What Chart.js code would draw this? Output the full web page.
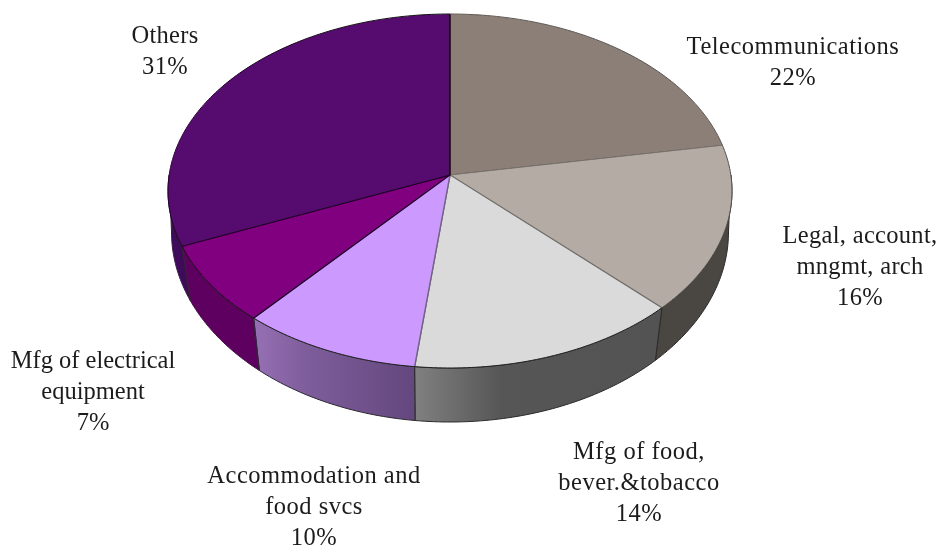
<!DOCTYPE html>
<html><head><meta charset="utf-8">
<style>html,body{margin:0;padding:0;background:#fff}canvas{display:block}</style>
<script src="https://cdn.jsdelivr.net/npm/chart.js@4"></script>
</head><body>
<div style="width:943px;height:552px"><canvas id="c" width="943" height="552"></canvas></div>
<script>
const categories = ["Telecommunications","Legal, account, mngmt, arch","Mfg of food, bever.&tobacco","Accommodation and food svcs","Mfg of electrical equipment","Others"];
const sliceShares = [22, 14.8, 15.2, 10, 7.1, 30.9];
// percentages as printed on the labels
const printedPercents = [22, 16, 14, 10, 7, 31];
const labelLines = [["Telecommunications"],["Legal, account,","mngmt, arch"],["Mfg of food,","bever.&tobacco"],["Accommodation and","food svcs"],["Mfg of electrical","equipment"],["Others"]];
const topColors = ["#8B7F78","#B3ABA4","#DADADA","#CC99FF","#800080","#560B6E"];
const edgeColors = ["#5c5550","#77716b","#6e6e6e","#7a5a9c","#220022","#1c0428"];
const rimColors = ["#5c5550","#55504b","#222222","#222222","#111111","#111111"];
const wallFrom = ["#4a4641","#4a4641","#808080","#9670B4","#5E0060","#3F0A5B"];
const wallMid  = ["#4a4641","#4a4641","#565656","#7d5c9a","#5E0060","#3F0A5B"];
const wallTo   = ["#4a4641","#4a4641","#535353","#64477E","#5E0060","#3F0A5B"];
const labelAnchors = [[793,47.5],[860,237],[639,452.5],[314,476.5],[93,361.5],[165,36.5]];
const labelSpacing = [0.5,0.3,0.5,0.5,0,0.3];
const LINE_H = 31;
const G = {cx:450, cy:175, rx:282, ryUp:161, ryDown:193, ey:191, ery:177, bx:278.5, bcy:232, bry:190, over:1.15};

function topPt(a){
  const s=Math.sin(a);
  const dx=G.rx*Math.cos(a), dy=(s<0?G.ryUp:G.ryDown)*s, py=G.cy-G.ey;
  const A=dx*dx/(G.rx*G.rx)+dy*dy/(G.ery*G.ery), B=2*py*dy/(G.ery*G.ery), C=py*py/(G.ery*G.ery)-1;
  const t=(-B+Math.sqrt(B*B-4*A*C))/(2*A);
  return [G.cx+t*dx,G.cy+t*dy];
}
function botPt(a){return [G.cx+G.bx*Math.cos(a),G.bcy+G.bry*Math.sin(a)];}

const pie3d = {
  id:'pie3d',
  beforeDatasetsDraw(chart){
    const ctx=chart.ctx, arcs=chart.getDatasetMeta(0).data;
    const TAU=Math.PI*2;
    arcs.forEach((arc,i)=>{
      const s=arc.startAngle, e=arc.endAngle;
      const pieces=[];
      for(const k of [-1,0,1]){
        const lo=Math.max(s,k*TAU), hi=Math.min(e,k*TAU+Math.PI);
        if(hi>lo) pieces.push([lo,hi]);
      }
      pieces.forEach(([lo,hi])=>{
        const n=Math.max(8,Math.round((hi-lo)*60));
        ctx.beginPath();
        let minX=1e9,maxX=-1e9;
        for(let j=0;j<=n;j++){const p=topPt(lo+(hi-lo)*j/n);j?ctx.lineTo(p[0],p[1]):ctx.moveTo(p[0],p[1]);minX=Math.min(minX,p[0]);maxX=Math.max(maxX,p[0]);}
        for(let j=n;j>=0;j--){const p=botPt(lo+(hi-lo)*j/n);ctx.lineTo(p[0],p[1]);minX=Math.min(minX,p[0]);maxX=Math.max(maxX,p[0]);}
        ctx.closePath();
        const g=ctx.createLinearGradient(minX,0,maxX,0);
        g.addColorStop(0,wallFrom[i]);g.addColorStop(.35,wallMid[i]);g.addColorStop(1,wallTo[i]);
        ctx.fillStyle=g;ctx.fill();
        ctx.lineWidth=1;ctx.strokeStyle='#2a2a2a';ctx.stroke();
      });
    });
    // top face: wedges meet at the apex, outline is a true ellipse around a lower middle
    const R=arcs[0].outerRadius, ox=arcs[0].x, oy=arcs[0].y;
    ctx.save();
    ctx.beginPath();ctx.ellipse(G.cx,G.ey,G.rx,G.ery,0,0,TAU);ctx.clip();
    [[0,G.cy,G.ryUp],[G.cy,552-G.cy,G.ryDown]].forEach(([y,h,ry])=>{
      ctx.save();
      ctx.beginPath();ctx.rect(0,y,943,h);ctx.clip();
      ctx.translate(G.cx,G.cy);ctx.scale(G.over*G.rx/R,G.over*ry/R);ctx.translate(-ox,-oy);
      arcs.forEach(a=>a.draw(ctx));
      ctx.restore();
    });
    ctx.restore();
    // rim of each slice
    arcs.forEach((arc,i)=>{
      const n=Math.max(8,Math.round((arc.endAngle-arc.startAngle)*60));
      ctx.beginPath();
      for(let j=0;j<=n;j++){const p=topPt(arc.startAngle+(arc.endAngle-arc.startAngle)*j/n);j?ctx.lineTo(p[0],p[1]):ctx.moveTo(p[0],p[1]);}
      ctx.lineWidth=1;ctx.strokeStyle=rimColors[i];ctx.stroke();
    });
    // labels
    ctx.save();
    ctx.fillStyle='#1c1c1c';ctx.textAlign='center';ctx.textBaseline='middle';
    ctx.font='24.5px "Liberation Serif"';
    categories.forEach((c,i)=>{
      if('letterSpacing' in ctx) ctx.letterSpacing=labelSpacing[i]+'px';
      const lines=labelLines[i].concat([printedPercents[i]+'%']);
      lines.forEach((t,j)=>ctx.fillText(t,labelAnchors[i][0],labelAnchors[i][1]+j*LINE_H));
    });
    ctx.restore();
    return false;
  }
};

new Chart(document.getElementById('c'),{
  type:'pie',
  data:{labels:categories,datasets:[{data:sliceShares,backgroundColor:topColors,borderColor:edgeColors,borderWidth:1.2}]},
  options:{responsive:false,devicePixelRatio:1,animation:false,layout:{padding:0},
    plugins:{legend:{display:false},tooltip:{enabled:false}}},
  plugins:[pie3d]
});
</script>
</body></html>
